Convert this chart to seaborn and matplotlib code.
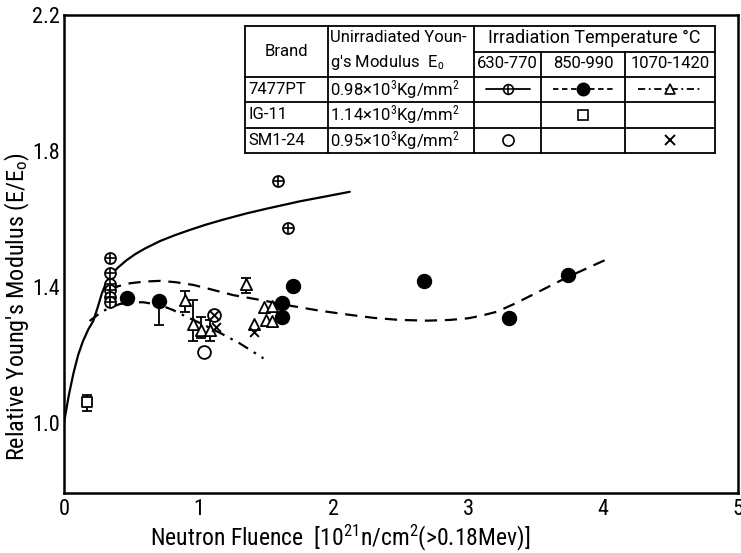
import matplotlib
matplotlib.use("Agg")
import matplotlib.pyplot as plt
from matplotlib import font_manager
import seaborn as sns

# ---------------- data ----------------
# 7477PT, 630-770 C (crossed circles)
pt630_x = [0.34, 0.34, 0.34, 0.34, 0.34, 0.34, 1.585, 1.66]
pt630_y = [1.485, 1.44, 1.41, 1.39, 1.37, 1.355, 1.713, 1.573]
# 7477PT, 850-990 C (filled circles)
pt850_x = [0.465, 0.707, 1.615, 1.62, 1.697, 2.67, 3.30, 3.74]
pt850_y = [1.369, 1.359, 1.352, 1.313, 1.403, 1.418, 1.31, 1.435]
# 7477PT, 1070-1420 C (open triangles)
pt1070_x = [0.90, 0.955, 1.02, 1.083, 1.35, 1.41, 1.48, 1.54, 1.50, 1.54]
pt1070_y = [1.362, 1.291, 1.274, 1.274, 1.408, 1.291, 1.342, 1.344, 1.303, 1.300]
# IG-11, 850-990 C (open square)
ig_x = [0.173]
ig_y = [1.061]
# SM1-24, 630-770 C (open circles)
sm630_x = [1.04, 1.113]
sm630_y = [1.208, 1.318]
# SM1-24, 1070-1420 C (crosses)
sm1070_x = [1.113, 1.13, 1.41]
sm1070_y = [1.318, 1.283, 1.268]

# error bars (x, y, lower, upper)
err_x = [0.707, 0.90, 0.955, 1.02, 1.083, 1.35, 0.173]
err_y = [1.359, 1.362, 1.291, 1.274, 1.274, 1.408, 1.061]
err_lo = [0.071, 0.035, 0.049, 0.024, 0.032, 0.025, 0.025]
err_hi = [0.0, 0.026, 0.071, 0.039, 0.030, 0.019, 0.021]

# fitted curves
solid_x = [0.0, 0.035, 0.07, 0.105, 0.14, 0.18, 0.217, 0.25, 0.28, 0.31, 0.34, 0.37, 0.40,
           0.465, 0.53, 0.6, 0.712, 0.82, 0.935, 1.05, 1.18, 1.35, 1.5, 1.75, 1.95, 2.12]
solid_y = [1.0, 1.08, 1.146, 1.20, 1.24, 1.275, 1.30, 1.34, 1.38, 1.41, 1.43, 1.445, 1.457,
           1.479, 1.497, 1.513, 1.535, 1.552, 1.568, 1.583, 1.598, 1.616, 1.630, 1.652, 1.667, 1.68]
dash_x = [0.34, 0.40, 0.49, 0.6, 0.712, 0.83, 0.96, 1.1, 1.256, 1.454, 1.677, 1.9, 2.12, 2.3,
          2.49, 2.7, 2.86, 3.0, 3.1, 3.21, 3.35, 3.506, 3.73, 4.03]
dash_y = [1.39, 1.402, 1.411, 1.416, 1.418, 1.414, 1.406, 1.392, 1.376, 1.362, 1.345, 1.330, 1.318, 1.309,
          1.303, 1.301, 1.303, 1.308, 1.316, 1.327, 1.352, 1.383, 1.428, 1.482]
dd_x = [0.19, 0.25, 0.317, 0.415, 0.5, 0.59, 0.712, 0.81, 0.91, 1.03, 1.157, 1.30, 1.40, 1.48]
dd_y = [1.30, 1.318, 1.335, 1.35, 1.355, 1.355, 1.347, 1.332, 1.312, 1.29, 1.265, 1.235, 1.21, 1.19]

x_ticks = [0, 1, 2, 3, 4, 5]
y_ticks = [1.0, 1.4, 1.8, 2.2]
y_tick_labels = ["1.0", "1.4", "1.8", "2.2"]

# ---------------- style ----------------
sns.set_theme(style="white")
names = {f.name for f in font_manager.fontManager.ttflist}
files = [f.fname for f in font_manager.fontManager.ttflist]
stretch = "normal"
fam = None
for cand in ["Liberation Sans Narrow", "Roboto Condensed", "Noto Sans Condensed",
             "Open Sans Condensed", "DejaVu Sans Condensed"]:
    if cand in names:
        fam = [cand, "DejaVu Sans"]
        break
if fam is None:
    if any("DejaVuSansCondensed" in p for p in files):
        fam = ["DejaVu Sans"]
        stretch = "condensed"
    else:
        fam = ["Roboto", "DejaVu Sans"]
plt.rcParams["font.family"] = fam
plt.rcParams["font.stretch"] = stretch
plt.rcParams["mathtext.fontset"] = "custom"
plt.rcParams["mathtext.rm"] = fam[0]
plt.rcParams["mathtext.it"] = fam[0]

W, H = 741, 553
fig = plt.figure(figsize=(W / 100, H / 100), dpi=100)
L, T, R, B = 64, 15, 738, 493
ax = fig.add_axes([L / W, 1 - B / H, (R - L) / W, (B - T) / H])
ax.set_xlim(0, 5)
ax.set_ylim(0.794, 2.2)

K = "black"
LW = 1.6
sns.lineplot(x=solid_x, y=solid_y, sort=False, color=K, lw=LW, ax=ax)
sns.lineplot(x=dash_x, y=dash_y, sort=False, color=K, lw=LW, ax=ax, linestyle=(0, (5.5, 3.5)))
sns.lineplot(x=dd_x, y=dd_y, sort=False, color=K, lw=LW, ax=ax, linestyle=(0, (5, 3, 1.2, 3)))

ax.errorbar(err_x, err_y, yerr=[err_lo, err_hi], fmt="none", ecolor=K, elinewidth=1.3, capsize=3.5, capthick=1.3)

sns.scatterplot(x=pt630_x, y=pt630_y, marker="o", s=62, facecolor="white", edgecolor=K, linewidth=1.3, ax=ax, zorder=5)
sns.scatterplot(x=pt630_x, y=pt630_y, marker="+", s=55, color=K, linewidth=1.2, ax=ax, zorder=6)
sns.scatterplot(x=pt850_x, y=pt850_y, marker="o", s=105, color=K, edgecolor=K, ax=ax, zorder=5)
sns.scatterplot(x=pt1070_x, y=pt1070_y, marker="^", s=65, facecolor="white", edgecolor=K, linewidth=1.3, ax=ax, zorder=5)
sns.scatterplot(x=ig_x, y=ig_y, marker="s", s=60, facecolor="white", edgecolor=K, linewidth=1.3, ax=ax, zorder=5)
sns.scatterplot(x=sm630_x, y=sm630_y, marker="o", s=85, facecolor="white", edgecolor=K, linewidth=1.3, ax=ax, zorder=5)
sns.scatterplot(x=sm1070_x, y=sm1070_y, marker="x", s=40, color=K, linewidth=1.4, ax=ax, zorder=6)

# axes appearance
for s in ax.spines.values():
    s.set_color(K)
    s.set_linewidth(1.8)
ax.set_xticks(x_ticks)
ax.set_xticklabels([str(v) for v in x_ticks])
ax.set_yticks(y_ticks)
ax.set_yticklabels(y_tick_labels)
ax.tick_params(direction="in", length=5, width=1.3, colors=K, labelsize=16)
ax.tick_params(axis="x", pad=4)
ax.tick_params(axis="y", pad=3)
ax.set_xlabel(r"Neutron Fluence  [10$^{21}$n/cm$^{2}$(>0.18Mev)]", fontsize=17, color=K)
ax.xaxis.set_label_coords(0.41, -0.062)
ax.set_ylabel(r"Relative Young's Modulus (E/E$_{\mathrm{o}}$)", fontsize=17.5, color=K)
ax.yaxis.set_label_coords(-0.047, 0.39)

# ---------------- table (legend) ----------------
def ax_xy(px, py):
    return (px - L) / (R - L), (B - py) / (B - T)

cols = [245, 328, 474, 541, 625, 715]
rows = [26, 51.5, 76.5, 102, 127.5, 153]

def hline(x0, x1, y):
    a = ax_xy(x0, y); b = ax_xy(x1, y)
    ax.plot([a[0], b[0]], [a[1], b[1]], color=K, lw=1.3, transform=ax.transAxes, clip_on=False, zorder=10)

def vline(x, y0, y1):
    a = ax_xy(x, y0); b = ax_xy(x, y1)
    ax.plot([a[0], b[0]], [a[1], b[1]], color=K, lw=1.3, transform=ax.transAxes, clip_on=False, zorder=10)

x0, y0 = ax_xy(cols[0], rows[-1])
x1, y1 = ax_xy(cols[-1], rows[0])
ax.add_patch(plt.Rectangle((x0, y0), x1 - x0, y1 - y0, transform=ax.transAxes,
                           facecolor="white", edgecolor="none", zorder=9))

hline(cols[0], cols[-1], rows[0])
hline(cols[2], cols[-1], rows[1])
for r in rows[2:]:
    hline(cols[0], cols[-1], r)
for c in [cols[0], cols[1], cols[2], cols[-1]]:
    vline(c, rows[0], rows[-1])
for c in [cols[3], cols[4]]:
    vline(c, rows[1], rows[-1])

TS = 12
TFAM = ["Roboto", "DejaVu Sans"]

def txt(px, py, s, ha="center", size=TS):
    x, y = ax_xy(px, py)
    ax.text(x, y, s, ha=ha, va="center", fontsize=size, color=K, transform=ax.transAxes,
            zorder=11, family=TFAM, fontstretch="normal")

txt((cols[0] + cols[1]) / 2, (rows[0] + rows[2]) / 2, "Brand")
txt(cols[1] + 2, 38, "Unirradiated Youn-", ha="left")
txt(cols[1] + 2, 63, r"g's Modulus  E$_{\mathrm{o}}$", ha="left")
txt((cols[2] + cols[5]) / 2, 38, "Irradiation Temperature °C", size=13)
txt((cols[2] + cols[3]) / 2, 64, "630-770")
txt((cols[3] + cols[4]) / 2, 64, "850-990")
txt((cols[4] + cols[5]) / 2, 64, "1070-1420")
brands = ["7477PT", "IG-11", "SM1-24"]
moduli = [r"0.98×10$^{3}$Kg/mm$^{2}$", r"1.14×10$^{3}$Kg/mm$^{2}$", r"0.95×10$^{3}$Kg/mm$^{2}$"]
for i in range(3):
    yc = (rows[2 + i] + rows[3 + i]) / 2
    txt(cols[0] + 3, yc, brands[i], ha="left")
    txt(cols[1] + 2, yc, moduli[i], ha="left")

def legline(cx, cy, half, ls):
    a = ax_xy(cx - half, cy); b = ax_xy(cx + half, cy)
    ax.plot([a[0], b[0]], [a[1], b[1]], color=K, lw=1.3, ls=ls, transform=ax.transAxes, clip_on=False, zorder=11)

def legmark(cx, cy, **kw):
    a = ax_xy(cx, cy)
    ax.plot([a[0]], [a[1]], transform=ax.transAxes, clip_on=False, zorder=12, ls="none", **kw)

r1 = (rows[2] + rows[3]) / 2
r2 = (rows[3] + rows[4]) / 2
r3 = (rows[4] + rows[5]) / 2
c1 = (cols[2] + cols[3]) / 2
c2 = (cols[3] + cols[4]) / 2
c3 = (cols[4] + cols[5]) / 2
legline(c1, r1, 22, "-")
legmark(c1, r1, marker="o", ms=7, mfc="white", mec=K, mew=1.2)
legmark(c1, r1, marker="+", ms=7, mec=K, mew=1.1)
legline(c2, r1, 30, (0, (3, 2)))
legmark(c2, r1, marker="o", ms=9, mfc=K, mec=K)
legline(c3, r1, 32, (0, (4, 2, 1, 2)))
legmark(c3, r1, marker="^", ms=7, mfc="white", mec=K, mew=1.2)
legmark(c2, r2, marker="s", ms=7, mfc="white", mec=K, mew=1.2)
legmark(c1, r3, marker="o", ms=8, mfc="white", mec=K, mew=1.2)
legmark(c3, r3, marker="x", ms=7, mec=K, mew=1.4)

fig.savefig("out.png", dpi=100, facecolor="white")
